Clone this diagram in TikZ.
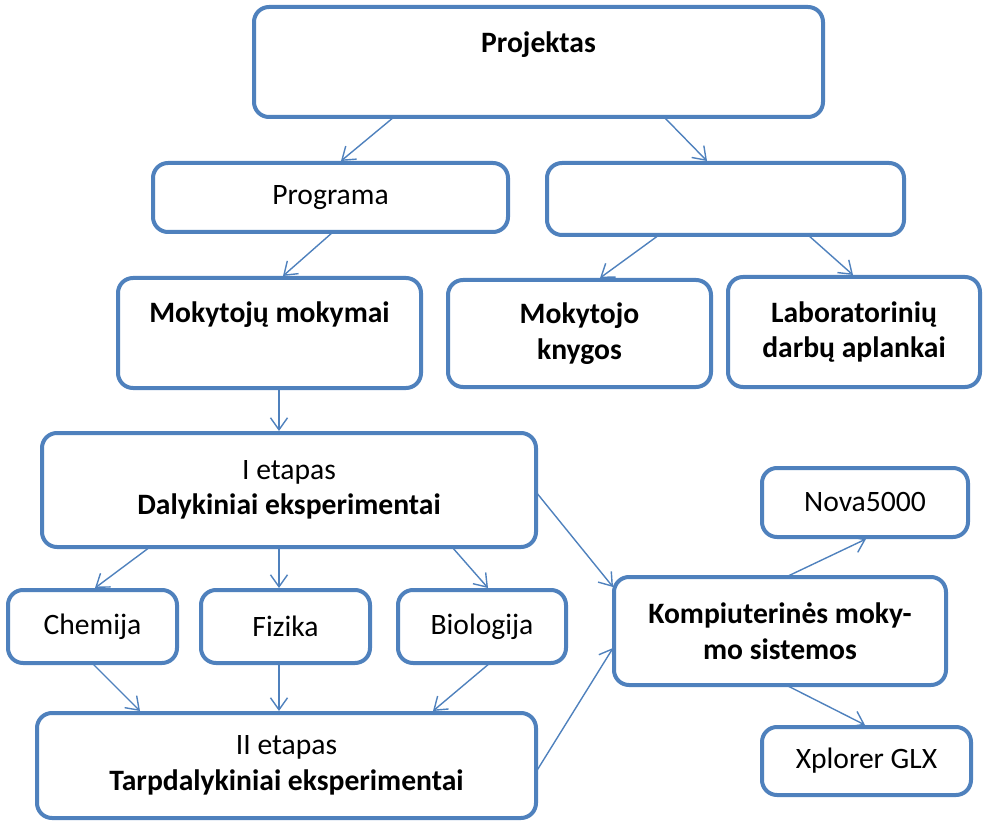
\documentclass[tikz,border=0pt]{standalone}
\usepackage{fontspec}
\setmainfont{Carlito}
\usetikzlibrary{arrows.meta}
\definecolor{boxblue}{HTML}{4F81BD}
\begin{document}
\begin{tikzpicture}[x=1pt,y=-1pt,
  box/.style={draw=boxblue, line width=4pt, rounded corners=15pt, fill=white,
    inner sep=0pt, outer sep=0pt, align=center,
    font=\fontsize{29.6}{35.5}\selectfont},
  bbox/.style={box, font=\fontsize{29.6}{35.5}\selectfont\bfseries},
  conn/.style={draw=boxblue, line width=1.4pt, -{Straight Barb[length=12pt,width=17pt,line width=1.4pt]}}
]
\useasboundingbox (0,0) rectangle (983,821);

\node[bbox, minimum width=569pt, minimum height=110pt, text height=20pt, text depth=38pt] (proj) at (538.5,62) {Projektas};
\node[box, minimum width=355pt, minimum height=69pt] (prog) at (330.5,197.5) {Programa};
\node[box, minimum width=357pt, minimum height=72pt] (empty) at (725.5,199) {};
\node[bbox, minimum width=303pt, minimum height=110pt, text height=20pt, text depth=40pt] (mokym) at (269.5,333) {Mokytojų mokymai};
\node[bbox, minimum width=263pt, minimum height=107pt] (knyg) at (579.5,333.5) {Mokytojo\\knygos};
\node[bbox, minimum width=252pt, minimum height=110pt] (lab) at (854,332) {Laboratorinių\\darbų aplankai};
\node[box, minimum width=494pt, minimum height=114pt] (etap1) at (289,490) {I etapas\\\textbf{Dalykiniai eksperimentai}};
\node[box, minimum width=169pt, minimum height=73pt] (chem) at (92.5,626.5) {Chemija};
\node[box, minimum width=169pt, minimum height=73pt] (fiz) at (285.5,626.5) {Fizika};
\node[box, minimum width=168pt, minimum height=73pt] (bio) at (482,626.5) {Biologija};
\node[box, minimum width=499pt, minimum height=105pt] (etap2) at (286.5,765.5) {II etapas\\\textbf{Tarpdalykiniai eksperimentai}};
\node[bbox, minimum width=332pt, minimum height=108pt] (komp) at (780,631) {Kompiuterinės moky-\\mo sistemos};
\node[box, minimum width=206pt, minimum height=69pt] (nova) at (865,502.5) {Nova5000};
\node[box, minimum width=209pt, minimum height=68pt] (xpl) at (866.5,761) {Xplorer GLX};

\draw[conn] ([xshift=-144.5pt]proj.south) -- ([xshift=10.5pt,yshift=2pt]prog.north);
\draw[conn] ([xshift=125.5pt]proj.south) -- ([xshift=-18.5pt,yshift=2pt]empty.north);
\draw[conn] ([xshift=2.5pt]prog.south) -- ([xshift=13.5pt,yshift=2pt]mokym.north);
\draw[conn] ([xshift=-66.5pt]empty.south) -- ([xshift=20.5pt,yshift=2pt]knyg.north);
\draw[conn] ([xshift=82.5pt]empty.south) -- ([xshift=-1pt,yshift=2pt]lab.north);
\draw[conn] ([xshift=9.5pt]mokym.south) -- ([xshift=-10pt,yshift=2pt]etap1.north);
\draw[conn] ([xshift=-139pt]etap1.south) -- ([xshift=2.5pt,yshift=2pt]chem.north);
\draw[conn] ([xshift=-10pt]etap1.south) -- ([xshift=-6.5pt,yshift=2pt]fiz.north);
\draw[conn] ([xshift=163pt]etap1.south) -- ([xshift=6pt,yshift=2pt]bio.north);
\draw[conn] ([xshift=-0.5pt]chem.south) -- ([xshift=-146.5pt,yshift=2pt]etap2.north);
\draw[conn] ([xshift=-6.5pt]fiz.south) -- ([xshift=-7.5pt,yshift=2pt]etap2.north);
\draw[conn] ([xshift=8pt]bio.south) -- ([xshift=146.5pt,yshift=2pt]etap2.north);
\draw[conn] ([yshift=-2pt]etap1.east) -- ([xshift=-1pt,yshift=44pt]komp.west);
\draw[conn] ([yshift=-6.5pt]etap2.east) -- ([xshift=-1pt,yshift=-17pt]komp.west);
\draw[conn] ([xshift=6pt]komp.north) -- ([xshift=1pt,yshift=-2pt]nova.south);
\draw[conn] ([xshift=6pt]komp.south) -- ([xshift=-1.5pt,yshift=2pt]xpl.north);
\end{tikzpicture}
\end{document}
